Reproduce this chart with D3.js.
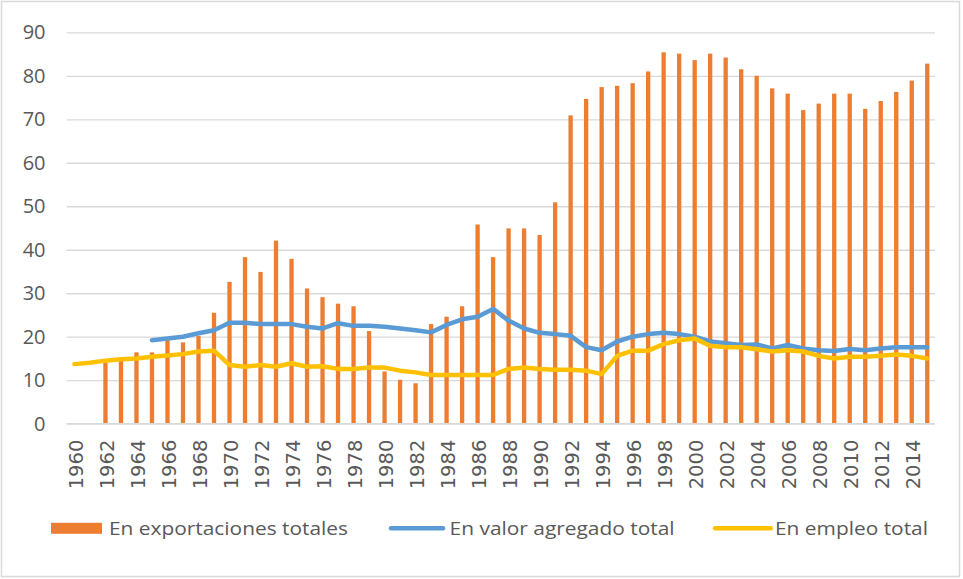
<!DOCTYPE html>
<html>
<head>
<meta charset="utf-8">
<script src="https://cdn.jsdelivr.net/npm/d3@7"></script>
<style>
  html, body { margin: 0; padding: 0; background: #ffffff; }
</style>
</head>
<body>
<div id="idMyCanvas"></div>
<script>
// Data
// -------------------
let years = d3.range(1960, 2016);

let exportaciones = [
  null, null, 14.0, 15.0, 16.4, 16.4, 19.2, 18.7, 20.2, 25.5,
  32.6, 38.3, 34.9, 42.1, 37.9, 31.1, 29.1, 27.6, 27.0, 21.3,
  12.0, 10.1, 9.3, 22.9, 24.6, 27.0, 45.8, 38.3, 44.9, 44.9,
  43.4, 50.9, 70.9, 74.7, 77.4, 77.7, 78.3, 81.0, 85.4, 85.1,
  83.6, 85.1, 84.2, 81.5, 80.0, 77.1, 75.9, 72.1, 73.6, 75.9,
  75.9, 72.4, 74.2, 76.3, 78.9, 82.8
];

let valor_agregado = [
  null, null, null, null, null, 19.2, 19.6, 20.0, 20.8, 21.5,
  23.2, 23.2, 22.9, 22.9, 22.9, 22.3, 21.9, 23.1, 22.5, 22.5,
  22.3, 21.9, 21.5, 21.0, 22.7, 24.0, 24.6, 26.4, 23.7, 21.9,
  20.9, 20.6, 20.2, 17.6, 16.9, 18.9, 20.0, 20.6, 20.9, 20.6,
  20.0, 18.9, 18.5, 18.1, 18.2, 17.3, 18.1, 17.3, 16.9, 16.7,
  17.2, 16.9, 17.3, 17.6, 17.6, 17.6
];

let empleo = [
  13.7, 14.0, 14.5, 14.8, 15.0, 15.4, 15.7, 16.0, 16.6, 16.8,
  13.5, 13.1, 13.5, 13.1, 13.9, 13.1, 13.2, 12.6, 12.6, 12.9,
  12.9, 12.2, 11.8, 11.2, 11.2, 11.2, 11.2, 11.2, 12.6, 12.9,
  12.6, 12.4, 12.4, 12.2, 11.4, 15.6, 16.8, 16.8, 18.3, 19.2,
  19.6, 17.9, 17.6, 17.6, 17.1, 16.6, 16.9, 16.6, 15.6, 15.0,
  15.4, 15.4, 15.6, 15.9, 15.6, 15.0
];

let y_ticks = [0, 10, 20, 30, 40, 50, 60, 70, 80, 90];
let x_tick_labels = years.filter(d => d % 2 === 0);

let legend_labels = ["En exportaciones totales", "En valor agregado total", "En empleo total"];
// -------------------

let canvas_w = 963;
let canvas_h = 579;

let svg_obj = d3.select("#idMyCanvas")
                .append("svg")
                  .attr("width", canvas_w)
                  .attr("height", canvas_h)
                  .attr("xmlns", "http://www.w3.org/2000/svg");

let col_orange = "#ed7d31";
let col_blue = "#5b9bd5";
let col_yellow = "#ffc000";
let col_grid = "#d9d9d9";
let col_text = "#595959";

// Frame
// -------------------
svg_obj.append("rect")
  .attr("x", 1.5)
  .attr("y", 1.5)
  .attr("width", 958)
  .attr("height", 575)
  .attr("fill", "#ffffff")
  .attr("stroke", "#d9d9d9")
  .attr("stroke-width", 1.5);
// -------------------

// Scales
// -------------------
let plot_x0 = 66.7;
let plot_x1 = 935;
let plot_y0 = 423.7; // value 0
let plot_y1 = 32.3;  // value 90

let x_scale = d3.scaleBand()
  .domain(years)
  .range([plot_x0, plot_x1])
  .paddingInner(0.72)
  .paddingOuter(0.36);

let y_scale = d3.scaleLinear()
  .domain([0, 90])
  .range([plot_y0, plot_y1]);

let x_mid = d => x_scale(d) + x_scale.bandwidth() / 2;
// -------------------

// Gridlines
// -------------------
let grid_obj = svg_obj.append("g")
  .attr("transform", "translate(" + plot_x0 + ",0)")
  .call(d3.axisLeft(y_scale).tickValues(y_ticks).tickSize(-(plot_x1 - plot_x0)).tickFormat(""));
grid_obj.select(".domain").remove();
grid_obj.selectAll("line").attr("stroke", col_grid).attr("stroke-width", 1.3);

// Y axis labels
let y_axis_obj = svg_obj.append("g")
  .attr("transform", "translate(" + 45.5 + ",0)")
  .call(d3.axisLeft(y_scale).tickValues(y_ticks).tickSize(0).tickPadding(0));
y_axis_obj.select(".domain").remove();
y_axis_obj.selectAll("text")
  .attr("fill", col_text)
  .attr("font-family", "'Open Sans', sans-serif")
  .attr("font-size", "20px");
// -------------------

// Bars
// -------------------
let bar_w = 4.3;
svg_obj.append("g")
  .selectAll("rect")
  .data(years.map((y, i) => ({ year: y, v: exportaciones[i] })).filter(d => d.v !== null))
  .join("rect")
    .attr("x", d => x_mid(d.year) - bar_w / 2)
    .attr("y", d => y_scale(d.v))
    .attr("width", bar_w)
    .attr("height", d => y_scale(0) - y_scale(d.v))
    .attr("fill", col_orange);
// -------------------

// Lines
// -------------------
let line_gen = d3.line()
  .defined(d => d.v !== null)
  .x(d => x_mid(d.year))
  .y(d => y_scale(d.v));

let series = [
  { vals: valor_agregado, color: col_blue },
  { vals: empleo, color: col_yellow }
];

series.forEach(s => {
  svg_obj.append("path")
    .datum(years.map((y, i) => ({ year: y, v: s.vals[i] })))
    .attr("d", line_gen)
    .attr("fill", "none")
    .attr("stroke", s.color)
    .attr("stroke-width", 4.5)
    .attr("stroke-linejoin", "round")
    .attr("stroke-linecap", "round");
});
// -------------------

// X axis
// -------------------
let x_axis_obj = svg_obj.append("g")
  .attr("transform", "translate(0," + plot_y0 + ")")
  .call(d3.axisBottom(x_scale).tickValues(x_tick_labels).tickSize(0).tickPadding(0));
x_axis_obj.select(".domain")
  .attr("stroke", col_grid)
  .attr("stroke-width", 1.3)
  .attr("d", "M" + plot_x0 + ",0H" + plot_x1);
x_axis_obj.selectAll("text")
  .attr("fill", col_text)
  .attr("font-family", "'DejaVu Sans', sans-serif")
  .attr("font-size", "19.5px")
  .attr("text-anchor", "end")
  .attr("dy", "0.35em")
  .attr("transform", "translate(1.5,16) rotate(-90)");
// -------------------

// Legend
// -------------------
let legend_font = "'Open Sans', sans-serif";
let legend_y = 528.3;

let leg_items = [
  { label: legend_labels[0], kind: "rect", color: col_orange, x0: 51, x1: 102, tx: 109, tw: 239 },
  { label: legend_labels[1], kind: "line", color: col_blue, x0: 391, x1: 443, tx: 449.6, tw: 225 },
  { label: legend_labels[2], kind: "line", color: col_yellow, x0: 715, x1: 770.7, tx: 775, tw: 153 }
];

leg_items.forEach(d => {
  if (d.kind === "rect") {
    svg_obj.append("rect")
      .attr("x", d.x0)
      .attr("y", legend_y - 5.5)
      .attr("width", d.x1 - d.x0)
      .attr("height", 11)
      .attr("fill", d.color);
  } else {
    svg_obj.append("line")
      .attr("x1", d.x0)
      .attr("x2", d.x1)
      .attr("y1", legend_y)
      .attr("y2", legend_y)
      .attr("stroke", d.color)
      .attr("stroke-width", 4.5)
      .attr("stroke-linecap", "round");
  }
  svg_obj.append("text")
    .attr("x", d.tx)
    .attr("y", 534.5)
    .attr("fill", col_text)
    .attr("font-family", legend_font)
    .attr("font-size", "19px")
    .attr("textLength", d.tw)
    .attr("lengthAdjust", "spacingAndGlyphs")
    .text(d.label);
});
// -------------------
</script>
</body>
</html>
